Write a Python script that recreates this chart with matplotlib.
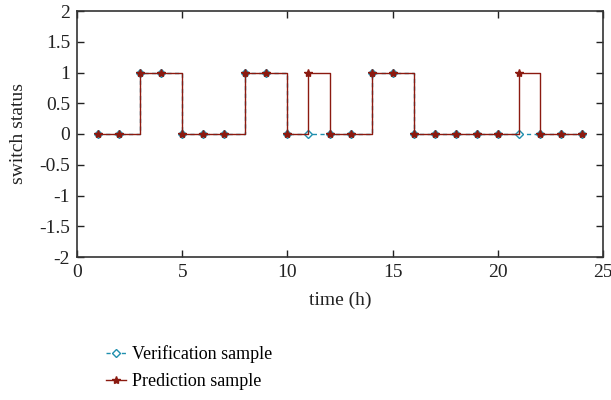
import matplotlib
matplotlib.use("Agg")
import matplotlib.pyplot as plt

hours = list(range(1, 25))
verification = [0, 0, 1, 1, 0, 0, 0, 1, 1, 0, 0, 0, 0, 1, 1, 0, 0, 0, 0, 0, 0, 0, 0, 0]
prediction   = [0, 0, 1, 1, 0, 0, 0, 1, 1, 0, 1, 0, 0, 1, 1, 0, 0, 0, 0, 0, 1, 0, 0, 0]
xticks = [0, 5, 10, 15, 20, 25]
yticks = [-2, -1.5, -1, -0.5, 0, 0.5, 1, 1.5, 2]
ytick_labels = ["-2", "-1.5", "-1", "-0.5", "0", "0.5", "1", "1.5", "2"]

plt.rcParams['font.family'] = ['Liberation Serif', 'DejaVu Serif']
plt.rcParams['font.size'] = 12

fig = plt.figure(figsize=(6.11, 4.00), dpi=100)
ax = fig.add_axes([0.126, 0.3575, 0.861, 0.615])

cyan = '#1f8fae'
red = '#8b1a10'

l1, = ax.step(hours, verification, where='post', color=cyan, linestyle=(0, (3, 2.5)),
              linewidth=1.0, marker='D', markersize=4, markerfacecolor='white',
              markeredgecolor=cyan, markeredgewidth=1.0, label='Verification sample')
l2, = ax.step(hours, prediction, where='post', color=red, linestyle='-',
              linewidth=1.0, marker='*', markersize=6, markerfacecolor=red,
              markeredgecolor=red, label='Prediction sample')

ax.set_xlim(0, 25)
ax.set_ylim(-2, 2)
ax.set_xticks(xticks)
ax.set_yticks(yticks)
ax.set_yticklabels(ytick_labels)
ax.tick_params(direction='in', top=True, right=True, length=5, width=1.0,
               labelsize=14, colors='#222222', pad=5)
for s in ax.spines.values():
    s.set_color('#333333')
    s.set_linewidth(1.2)
ax.set_xlabel('time (h)', fontsize=14, labelpad=8, color='#222222')
ax.set_ylabel('switch status', fontsize=14, labelpad=9, color='#222222')

fig.legend(handles=[l1, l2], loc='upper left', bbox_to_anchor=(0.162, 0.155),
           frameon=False, fontsize=13, handlelength=1.1, handletextpad=0.35,
           labelspacing=0.55, borderaxespad=0)

fig.savefig('out.png', dpi=100)
